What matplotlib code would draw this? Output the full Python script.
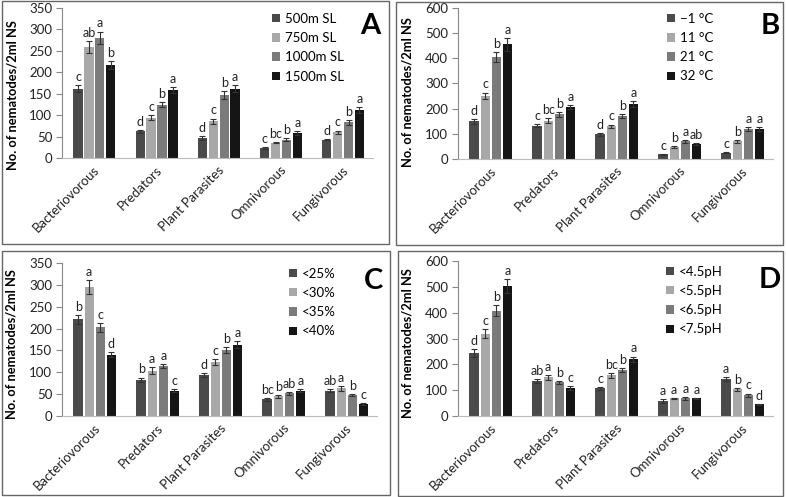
import matplotlib.pyplot as plt
import numpy as np
from matplotlib.patches import Rectangle, Patch

categories = ["Bacteriovorous", "Predators", "Plant Parasites", "Omnivorous", "Fungivorous"]
colors = ["#4a4a4a", "#a8a8a8", "#7b7b7b", "#151515"]

# Panel A - altitude
a_labels = ["500m SL", "750m SL", "1000m SL", "1500m SL"]
a_vals = [[162, 62, 47, 23, 43],
          [258, 94, 86, 36, 60],
          [281, 124, 147, 43, 83],
          [217, 159, 162, 58, 112]]
a_err = [[8, 4, 4, 2, 2],
         [14, 6, 6, 2, 4],
         [14, 6, 9, 3, 5],
         [10, 7, 9, 4, 7]]
a_sig = [["c", "d", "d", "c", "d"],
         ["ab", "c", "c", "bc", "c"],
         ["a", "b", "b", "b", "b"],
         ["b", "a", "a", "a", "a"]]

# Panel B - temperature
b_labels = ["\u22121 \u00b0C", "11 \u00b0C", "21 \u00b0C", "32 \u00b0C"]
b_vals = [[150, 133, 98, 18, 25],
          [252, 152, 130, 47, 70],
          [405, 177, 170, 70, 120],
          [455, 205, 220, 60, 120]]
b_err = [[10, 6, 5, 2, 2],
         [12, 10, 7, 3, 5],
         [20, 10, 8, 5, 8],
         [25, 8, 12, 3, 7]]
b_sig = [["d", "c", "d", "c", "c"],
         ["c", "bc", "c", "b", "b"],
         ["b", "b", "b", "a", "a"],
         ["a", "a", "a", "ab", "a"]]

# Panel C - moisture
c_labels = ["<25%", "<30%", "<35%", "<40%"]
c_vals = [[221, 83, 94, 38, 58],
          [295, 104, 123, 45, 63],
          [203, 114, 150, 52, 48],
          [140, 58, 163, 58, 27]]
c_err = [[10, 5, 4, 3, 3],
         [15, 7, 7, 3, 5],
         [10, 5, 7, 3, 2],
         [6, 3, 8, 3, 2]]
c_sig = [["b", "b", "d", "bc", "ab"],
         ["a", "a", "c", "b", "a"],
         ["c", "a", "b", "ab", "b"],
         ["d", "c", "a", "a", "c"]]

# Panel D - pH
d_labels = ["<4.5pH", "<5.5pH", "<6.5pH", "<7.5pH"]
d_vals = [[243, 135, 107, 58, 143],
          [318, 150, 157, 68, 103],
          [408, 130, 179, 68, 80],
          [503, 108, 220, 68, 45]]
d_err = [[15, 8, 6, 6, 8],
         [17, 10, 8, 3, 6],
         [20, 7, 8, 5, 7],
         [27, 7, 10, 3, 3]]
d_sig = [["d", "ab", "c", "a", "a"],
         ["c", "a", "bc", "a", "b"],
         ["b", "b", "b", "a", "c"],
         ["a", "c", "a", "a", "d"]]

W, H = 787, 497
plt.rcParams['font.family'] = ['Lato', 'DejaVu Sans']
fig = plt.figure(figsize=(W / 100, H / 100), dpi=100)


def px_axes(x0, x1, ytop, ybot):
    return fig.add_axes([x0 / W, 1 - ybot / H, (x1 - x0) / W, (ybot - ytop) / H])


def frame(x0, y0, x1, y1):
    fig.patches.append(Rectangle((x0 / W, 1 - y1 / H), (x1 - x0) / W, (y1 - y0) / H,
                                 transform=fig.transFigure, fill=False,
                                 edgecolor="#666666", lw=1.0))


def panel(ax, vals, errs, sigs, labels, ymax, step, tag, leg_x, lab_y):
    x = np.arange(len(categories))
    bw = 0.15
    off = 0.175
    for i in range(4):
        xs = x + (i - 1.5) * off + 0.02
        ax.bar(xs, vals[i], bw, color=colors[i], yerr=errs[i],
               error_kw=dict(ecolor="#333333", elinewidth=0.8, capsize=2.2, capthick=0.8))
        for xx, v, e, s in zip(xs, vals[i], errs[i], sigs[i]):
            ax.annotate(s, (xx, v + e), xytext=(0, 1.5), textcoords="offset points",
                        ha="center", va="bottom", fontsize=9, color="#222222")
    ax.set_xlim(-0.5, len(categories) - 0.5)
    ax.set_ylim(0, ymax)
    ax.set_yticks(np.arange(0, ymax + 1, step))
    ax.set_xticks(x)
    ax.set_xticklabels(categories, rotation=45, ha="right", rotation_mode="anchor",
                       fontsize=9.5, color="#222222")
    ax.tick_params(axis="x", length=0, pad=4)
    ax.tick_params(axis="y", length=4, color="#888888", labelsize=9.5,
                   labelcolor="#222222", pad=3)
    for s in ["top", "right"]:
        ax.spines[s].set_visible(False)
    ax.spines["left"].set_color("#888888")
    ax.spines["bottom"].set_color("#bbbbbb")
    ax.set_ylabel("No. of nematodes/2ml NS", fontsize=9.3, fontweight="bold")
    ax.yaxis.set_label_coords(-0.14, lab_y)
    handles = [Patch(facecolor=c) for c in colors]
    ax.legend(handles, labels, loc="upper left", bbox_to_anchor=(leg_x, 1.03),
              frameon=False, handlelength=0.6, handleheight=0.6, handletextpad=0.4,
              labelspacing=0.55, fontsize=9.5, borderaxespad=0.3)
    ax.text(0.99, 0.88, tag, transform=ax.transAxes, ha="center", va="center",
            fontsize=21, fontweight="bold")


axA = px_axes(62, 373, 8, 158)
panel(axA, a_vals, a_err, a_sig, a_labels, 350, 50, "A", 0.645, 0.42)
axB = px_axes(458, 773, 8, 159)
panel(axB, b_vals, b_err, b_sig, b_labels, 600, 100, "B", 0.635, 0.44)
axC = px_axes(62, 377, 263, 416)
panel(axC, c_vals, c_err, c_sig, c_labels, 350, 50, "C", 0.69, 0.47)
axD = px_axes(458, 773, 261, 416)
panel(axD, d_vals, d_err, d_sig, d_labels, 600, 100, "D", 0.63, 0.47)

frame(2, 1, 389, 244)
frame(396, 2, 783, 245)
frame(2, 251, 390, 495)
frame(398, 251, 783, 496)

fig.savefig("out.png", dpi=100)
